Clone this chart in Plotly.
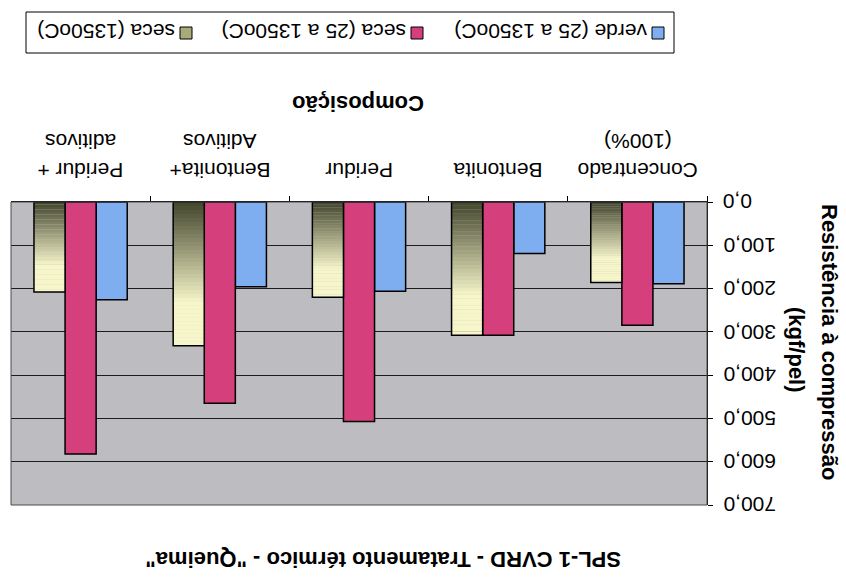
import plotly.graph_objects as go

# ---- data -------------------------------------------------------------
categories = ["Concentrado<br>(100%)", "Bentonita", "Peridur",
              "Bentonita+<br>Aditivos", "Peridur +<br>aditivos"]
series_names = ["verde (25 a 1350oC)", "seca (25 a 1350oC)", "seca (1350oC)"]
verde = [189, 119, 206, 196, 226]
seca_25_1350 = [285, 308, 507, 465, 582]
seca_1350 = [186, 308, 220, 332, 208]
y_ticks = [0, 100, 200, 300, 400, 500, 600, 700]

chart_title = 'SPL-1 CVRD - Tratamento térmico - "Queima"'
x_title = "Composição"
y_title = ["Resistência à compressão", "(kgf/pel)"]

# ---- style ------------------------------------------------------------
FONT = "Liberation Sans"
FS = 21
FS_TITLE = 22
BLUE = "#7eaef0"
PINK = "#d43f7c"
OLIVE_DARK = (66, 68, 44)
OLIVE_LIGHT = (246, 246, 202)
OLIVE_KEY = "#a9a97a"
PLOT_BG = "#bdbdc1"

W, H = 846, 585
L, R, T, B = 11, 707, 202, 505   # plot area in pixels


def px_x(px):
    return (px - L) / (R - L)


def px_y(py):
    return (B - py) / (B - T)


def olive(t):
    f = min(1.0, t / 0.7)
    c = [round(a + (b - a) * f) for a, b in zip(OLIVE_DARK, OLIVE_LIGHT)]
    return f"rgb({c[0]},{c[1]},{c[2]})"


outline = dict(color="black", width=1.5)

fig = go.Figure()
fig.add_bar(x=categories, y=verde, name=series_names[0], offsetgroup="verde",
            marker=dict(color=BLUE, line=outline))
fig.add_bar(x=categories, y=seca_25_1350, name=series_names[1], offsetgroup="seca",
            marker=dict(color=PINK, line=outline))

# gradient fill of the third series, built as stacked slices of each bar
N = 36
for k in range(N):
    grow = 1.0 if k == N - 1 else 1.04
    fig.add_bar(x=categories,
                base=[v * k / N for v in seca_1350],
                y=[v / N * grow for v in seca_1350],
                offsetgroup="queima", hoverinfo="skip",
                marker=dict(color=olive((k + 0.5) / N), line=dict(width=0)))
fig.add_bar(x=categories, y=seca_1350, name=series_names[2], offsetgroup="queima",
            marker=dict(color="rgba(0,0,0,0)", line=outline))

fig.update_traces(showlegend=False)

fig.update_layout(
    width=W, height=H,
    margin=dict(l=L, r=W - R, t=T, b=H - B),
    paper_bgcolor="white", plot_bgcolor=PLOT_BG,
    barmode="group", bargap=0.33, bargroupgap=0,
    font=dict(family=FONT, size=FS, color="black"),
    showlegend=False, hovermode=False,
)
fig.update_xaxes(type="category", side="top", autorange="reversed",
                 showticklabels=False, ticks="outside", tickson="boundaries",
                 ticklen=5, tickcolor="black", showline=True, linecolor="black",
                 linewidth=1, showgrid=False)
fig.update_yaxes(range=[700, 0], autorange=False, side="right", tickvals=y_ticks,
                 showticklabels=False, ticks="outside", ticklen=5, tickcolor="black",
                 showgrid=True, gridcolor="#1c1c1c", gridwidth=1, zeroline=False,
                 showline=True, linecolor="black", linewidth=1)

txt = dict(family=FONT, size=FS, color="black")
ann = []
# value labels of the vertical axis
for v in y_ticks:
    ann.append(dict(x=px_x(721), xref="paper", y=v, yref="y", xanchor="left",
                    yanchor="middle", text=f"{v:.1f}".replace(".", ","),
                    textangle=180, showarrow=False, font=txt))
# category labels, one annotation per line
for cat in categories:
    for i, line in enumerate(cat.split("<br>")):
        ann.append(dict(x=cat, xref="x", y=px_y(171 - 30 * i), yref="paper",
                        xanchor="center", yanchor="middle", text=line,
                        textangle=180, showarrow=False, font=txt))
# titles
titles = [
    (f"<b>{x_title}</b>", 358, 104, 180),
    (f"<b>{chart_title}</b>", 383, 560, 180),
    (f"<b>{y_title[0]}</b>", 830, 342, 90),
    (f"<b>{y_title[1]}</b>", 797, 350, 90),
]
for text, tx, ty, ang in titles:
    ann.append(dict(x=px_x(tx), y=px_y(ty), xref="paper", yref="paper",
                    xanchor="center", yanchor="middle", text=text,
                    textangle=ang, showarrow=False,
                    font=dict(family=FONT, size=FS_TITLE, color="black")))

shapes = [
    # plot area frame
    dict(type="rect", xref="paper", yref="paper", x0=0, x1=1, y0=0, y1=1,
         line=dict(color="#4a4a4a", width=1), layer="above"),
    # legend frame
    dict(type="rect", xref="paper", yref="paper", x0=px_x(26), x1=px_x(674),
         y0=px_y(53), y1=px_y(12), line=dict(color="black", width=1),
         fillcolor="white", layer="above"),
]

# legend entries, laid out right to left
key_colors = [BLUE, PINK, OLIVE_KEY]
key_right = [664, 423, 192]
for name, col, kr in zip(series_names, key_colors, key_right):
    shapes.append(dict(type="rect", xref="paper", yref="paper",
                       x0=px_x(kr - 12), x1=px_x(kr), y0=px_y(39), y1=px_y(27),
                       fillcolor=col, line=dict(color="black", width=1),
                       layer="above"))
    ann.append(dict(x=px_x(kr - 15), y=px_y(32), xref="paper", yref="paper",
                    xanchor="right", yanchor="middle", text=name, textangle=180,
                    showarrow=False, font=txt))

fig.update_layout(annotations=ann, shapes=shapes)
fig.write_html("out.html")
